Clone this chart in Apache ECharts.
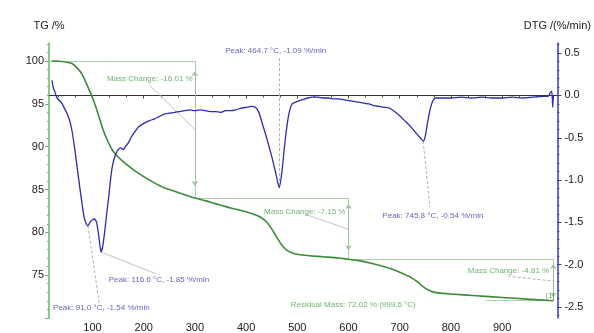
<!DOCTYPE html>
<html>
<head>
<meta charset="utf-8">
<script src="https://cdn.jsdelivr.net/npm/echarts@6/dist/echarts.min.js"></script>
<style>
  html, body { margin: 0; padding: 0; background: #fff; }
  #tga { width: 594px; height: 333px; }
</style>
</head>
<body>
<div id="tga"></div>
<script>
// TG curve (mass %, left axis)
var tgTemp = [20, 30, 40, 50, 60, 70, 80, 90, 100, 110, 120, 130, 140, 150, 160, 170, 180, 200, 220, 240,
  260, 280, 300, 320, 340, 360, 380, 400, 420, 430, 440, 450, 460, 470, 480, 490, 500, 520, 550, 580,
  600, 620, 640, 660, 680, 700, 720, 735, 745, 755, 765, 780, 800, 850, 900, 950, 1000];
var tgValues = [100.0, 100.0, 99.95, 99.85, 99.7, 99.2, 98.4, 97.1, 95.7, 94.0, 92.1, 90.6, 89.5, 88.8, 88.25, 87.75, 87.3, 86.5, 85.8, 85.2,
  84.8, 84.4, 84.0, 83.7, 83.35, 83.0, 82.7, 82.4, 82.0, 81.7, 81.2, 80.4, 79.4, 78.5, 77.9, 77.6, 77.45, 77.3, 77.15, 77.0,
  76.85, 76.7, 76.45, 76.15, 75.8, 75.35, 74.8, 74.2, 73.7, 73.3, 73.05, 72.9, 72.8, 72.6, 72.4, 72.2, 72.02];

// DTG curve (%/min, right axis)
var dtgTemp = [21, 23, 26, 30, 35, 40, 45, 50, 55, 60, 65, 70, 75, 80, 84, 88, 91, 95, 100, 104, 108, 112, 116.6,
  120, 124, 128, 132, 136, 140, 145, 150, 155, 160, 165, 170, 175, 180, 185, 190, 200, 210, 220, 230, 240, 250,
  260, 270, 280, 290, 300, 310, 320, 330, 340, 350, 360, 370, 380, 390, 400, 410, 418, 425, 430, 440, 450, 458,
  464.7, 470, 475, 480, 485, 490, 500, 510, 520, 530, 540, 550, 560, 570, 580, 590, 600, 610, 620, 630, 640, 650,
  660, 670, 680, 690, 700, 710, 720, 730, 740, 745.8, 750, 755, 760, 765, 770, 780, 800, 820, 840, 860, 880, 900,
  920, 940, 960, 980, 990, 994, 997, 999, 1000];
var dtgValues = [0.18, 0.1, 0.05, -0.02, -0.06, -0.09, -0.15, -0.21, -0.29, -0.42, -0.62, -0.85, -1.08, -1.3, -1.45, -1.52, -1.54, -1.5, -1.47, -1.46, -1.5, -1.65, -1.85,
  -1.78, -1.6, -1.38, -1.18, -0.95, -0.8, -0.7, -0.64, -0.62, -0.64, -0.6, -0.56, -0.5, -0.45, -0.41, -0.37, -0.33, -0.3, -0.28, -0.25, -0.22, -0.21,
  -0.2, -0.19, -0.18, -0.17, -0.18, -0.17, -0.18, -0.19, -0.19, -0.2, -0.18, -0.18, -0.17, -0.15, -0.14, -0.13, -0.14, -0.2, -0.3, -0.5, -0.72, -0.92,
  -1.09, -0.9, -0.6, -0.35, -0.18, -0.1, -0.07, -0.05, -0.03, -0.02, -0.02, -0.03, -0.03, -0.04, -0.04, -0.05, -0.06, -0.07, -0.08, -0.09, -0.1, -0.12,
  -0.13, -0.14, -0.15, -0.19, -0.24, -0.3, -0.36, -0.43, -0.5, -0.54, -0.48, -0.3, -0.15, -0.06, -0.03, -0.03, -0.03, -0.02, -0.03, -0.02, -0.03, -0.03,
  -0.02, -0.03, -0.02, -0.01, -0.01, 0.03, 0.05, -0.14, 0.0];

// axis ticks
var tempLabels = [100, 200, 300, 400, 500, 600, 700, 800, 900];
var tgLabels = [75, 80, 85, 90, 95, 100];
var dtgLabels = [-2.5, -2.0, -1.5, -1.0, -0.5, 0.0, 0.5];

// evaluation marks: mass steps on TG axis [T1, v1, T2, v2]
var stepLines = [
  [15, 100, 300, 100], [300, 100, 300, 83.99],
  [300, 83.99, 600, 83.99], [600, 83.99, 600, 76.84],
  [600, 76.84, 1000, 76.84], [1000, 76.84, 1000, 72.03],
  [868, 72.02, 1000, 72.02]
];
var stepArrows = [[300, 98.8, 300, 85.4], [600, 83.3, 600, 77.9], [1000, 76.3, 1000, 72.4]];
var tgLeaders = [[211, 97.2, 300, 92.0], [516, 82.1, 600, 80.35]];
var tgDashed = [[911, 74.9, 1000, 74.3]];
var dtgLeaders = [[116.6, -1.85, 225, -2.11]];
var dtgDashed = [[464.7, 0.44, 464.7, -1.09], [745.8, -0.54, 759, -1.32], [91.0, -1.54, 114, -2.49]];

var tgNotes = [
  [128, 97.9, 'Mass Change: -16.01 %'],
  [435, 82.44, 'Mass Change: -7.15 %'],
  [833, 75.47, 'Mass Change: -4.81 %'],
  [487, 71.51, 'Residual Mass: 72.02 % (999.6 °C)'],
  [985, 72.56, '[1]']
];
var dtgNotes = [
  [359, 0.526, 'Peak: 464.7 °C, -1.09 %/min'],
  [666, -1.417, 'Peak: 745.8 °C, -0.54 %/min'],
  [131.6, -2.183, 'Peak: 116.6 °C, -1.85 %/min'],
  [22.8, -2.512, 'Peak: 91.0 °C, -1.54 %/min']
];

function pairs(xs, ys) {
  return xs.map(function (x, i) { return [x, ys[i]]; });
}
function segs(list) {
  return list.map(function (s) { return { coords: [[s[0], s[1]], [s[2], s[3]]] }; });
}
function notes(list) {
  return list.map(function (n) { return { value: [n[0], n[1]], name: n[2] }; });
}
function steps(from, to, step) {
  var out = [];
  for (var v = from; v <= to + 1e-9; v += step) out.push(Math.round(v * 1000) / 1000);
  return out;
}

var green = '#3b8b3b';
var blue = '#2b2bb3';
var font = 'Liberation Sans, Arial, sans-serif';

var chart = echarts.init(document.getElementById('tga'));

var option = {
  animation: false,
  grid: { left: 49, right: 34, top: 43, bottom: 14 },
  xAxis: [
    {
      type: 'value', min: 15, max: 1008,
      axisLine: { lineStyle: { color: '#333', width: 1 } },
      axisTick: { customValues: steps(100, 1000, 100), length: 3, lineStyle: { color: '#333' } },
      axisLabel: { customValues: tempLabels, color: '#222', fontSize: 11, fontFamily: font, margin: 4 },
      splitLine: { show: false }
    },
    {
      type: 'value', min: 15, max: 1008, position: 'bottom',
      axisLine: { show: false },
      axisTick: { customValues: steps(100 / 3, 1000, 100 / 3), length: 2, lineStyle: { color: '#555' } },
      axisLabel: { show: false },
      splitLine: { show: false }
    }
  ],
  yAxis: [
    {
      type: 'value', min: 70, max: 102.1, position: 'left',
      name: 'TG /%', nameLocation: 'end', nameGap: 12,
      nameTextStyle: { color: '#222', fontSize: 11, fontFamily: font, align: 'center' },
      axisLine: { show: true, lineStyle: { color: '#6cb56c', width: 1.5 } },
      axisTick: { customValues: steps(70, 100, 5), length: 4, lineStyle: { color: '#6cb56c' } },
      axisLabel: { customValues: tgLabels, color: '#222', fontSize: 11, fontFamily: font, margin: 5 },
      splitLine: { show: false }
    },
    {
      type: 'value', min: -2.63, max: 0.62, position: 'right',
      name: 'DTG /(%/min)', nameLocation: 'end', nameGap: 12,
      nameTextStyle: { color: '#222', fontSize: 11, fontFamily: font, align: 'center' },
      axisLine: { show: true, lineStyle: { color: '#3a3ab8', width: 1.5 } },
      axisTick: { customValues: dtgLabels, length: 4, lineStyle: { color: '#3a3ab8' } },
      axisLabel: {
        customValues: dtgLabels, color: '#222', fontSize: 11, fontFamily: font, margin: 7,
        formatter: function (v) { return v.toFixed(1); }
      },
      splitLine: { show: false }
    },
    {
      type: 'value', min: 70, max: 102.1, position: 'left',
      axisLine: { show: false },
      axisTick: { customValues: steps(70, 102, 1), length: 2, lineStyle: { color: '#6cb56c' } },
      axisLabel: { show: false },
      splitLine: { show: false }
    },
    {
      type: 'value', min: -2.63, max: 0.62, position: 'right',
      axisLine: { show: false },
      axisTick: { customValues: steps(-2.6, 0.6, 0.1), length: 2, lineStyle: { color: '#3a3ab8' } },
      axisLabel: { show: false },
      splitLine: { show: false }
    }
  ],
  series: [
    {
      type: 'lines', coordinateSystem: 'cartesian2d', xAxisIndex: 0, yAxisIndex: 0,
      lineStyle: { color: '#a9d1a9', width: 1, opacity: 1 },
      data: segs(stepLines)
    },
    {
      type: 'lines', coordinateSystem: 'cartesian2d', xAxisIndex: 0, yAxisIndex: 0,
      symbol: ['arrow', 'arrow'], symbolSize: 5,
      lineStyle: { color: '#9cbf9c', width: 1, opacity: 1 },
      data: segs(stepArrows)
    },
    {
      type: 'lines', coordinateSystem: 'cartesian2d', xAxisIndex: 0, yAxisIndex: 0,
      lineStyle: { color: '#c4c4c4', width: 1, opacity: 1 },
      data: segs(tgLeaders)
    },
    {
      type: 'lines', coordinateSystem: 'cartesian2d', xAxisIndex: 0, yAxisIndex: 0,
      lineStyle: { color: '#b0b0b0', width: 1, type: [3, 2], opacity: 1 },
      data: segs(tgDashed)
    },
    {
      type: 'lines', coordinateSystem: 'cartesian2d', xAxisIndex: 0, yAxisIndex: 1,
      lineStyle: { color: '#c4c4c4', width: 1, opacity: 1 },
      data: segs(dtgLeaders)
    },
    {
      type: 'lines', coordinateSystem: 'cartesian2d', xAxisIndex: 0, yAxisIndex: 1,
      lineStyle: { color: '#b0b0b0', width: 1, type: [3, 2], opacity: 1 },
      data: segs(dtgDashed)
    },
    {
      name: 'TG', type: 'line', xAxisIndex: 0, yAxisIndex: 0,
      showSymbol: false, smooth: 0.3,
      lineStyle: { color: green, width: 1.6 },
      data: pairs(tgTemp, tgValues)
    },
    {
      name: 'DTG', type: 'line', xAxisIndex: 0, yAxisIndex: 1,
      showSymbol: false, smooth: 0.2,
      lineStyle: { color: blue, width: 1.3 },
      data: pairs(dtgTemp, dtgValues)
    },
    {
      type: 'scatter', xAxisIndex: 0, yAxisIndex: 0,
      symbolSize: 0.1, itemStyle: { color: 'transparent' },
      label: { show: true, position: 'right', distance: 0, formatter: '{b}', color: '#4c9c4c', fontSize: 8, fontFamily: font },
      data: notes(tgNotes)
    },
    {
      type: 'scatter', xAxisIndex: 0, yAxisIndex: 1,
      symbolSize: 0.1, itemStyle: { color: 'transparent' },
      label: { show: true, position: 'right', distance: 0, formatter: '{b}', color: '#3c3cae', fontSize: 8, fontFamily: font },
      data: notes(dtgNotes)
    }
  ]
};

chart.setOption(option);
</script>
</body>
</html>
